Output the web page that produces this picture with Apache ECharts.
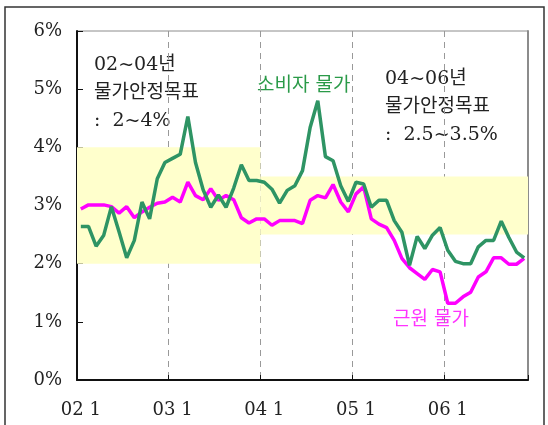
<!DOCTYPE html>
<html>
<head>
<meta charset="utf-8">
<script src="https://cdn.jsdelivr.net/npm/echarts@6/dist/echarts.min.js"></script>
<style>
  html, body { margin: 0; padding: 0; background: #fff; }
  #chart { width: 548px; height: 425px; }
</style>
</head>
<body>
<div id="chart"></div>
<script>
// Monthly CPI vs core inflation (YoY %), Jan 2002 .. Nov 2006, with the
// inflation-target bands for 2002-04 and 2004-06.
const years = ['02', '03', '04', '05', '06'];
const monthCount = 59;
const months = [];
for (let i = 0; i < monthCount; i++) months.push(years[Math.floor(i / 12)] + ' ' + (i % 12 + 1));

const cpi = [
  2.64, 2.64, 2.30, 2.49, 2.98, 2.55, 2.10, 2.40, 3.06, 2.77, 3.46, 3.74,
  3.81, 3.88, 4.53, 3.74, 3.27, 2.97, 3.18, 2.97, 3.30, 3.70, 3.43, 3.43,
  3.40, 3.28, 3.04, 3.26, 3.34, 3.60, 4.34, 4.80, 3.84, 3.77, 3.34, 3.07,
  3.40, 3.37, 2.97, 3.09, 3.09, 2.74, 2.54, 1.97, 2.47, 2.26, 2.49, 2.62,
  2.23, 2.04, 2.00, 2.00, 2.29, 2.40, 2.40, 2.73, 2.45, 2.20, 2.10
];
const core = [
  2.94, 3.01, 3.01, 3.01, 2.98, 2.87, 2.98, 2.79, 2.89, 2.97, 3.04, 3.06,
  3.14, 3.06, 3.40, 3.17, 3.10, 3.29, 3.09, 3.17, 3.10, 2.79, 2.70, 2.77,
  2.77, 2.66, 2.74, 2.74, 2.74, 2.69, 3.09, 3.17, 3.13, 3.36, 3.06, 2.89,
  3.20, 3.32, 2.77, 2.68, 2.62, 2.40, 2.09, 1.93, 1.83, 1.73, 1.90, 1.86,
  1.32, 1.32, 1.43, 1.51, 1.77, 1.86, 2.10, 2.10, 1.99, 1.99, 2.09
];
// target bands: month index range and % range
const bandFrom = [0, 24];
const bandTo = [24, 59];
const bandLow = [2, 2.5];
const bandHigh = [4, 3.5];

const serif = "'DejaVu Serif', 'Noto Sans CJK KR', serif";
const yearStart = (i) => i % 12 === 0;

const chart = echarts.init(document.getElementById('chart'), null, { renderer: 'canvas' });
chart.setOption({
  animation: false,
  backgroundColor: '#fff',
  grid: { left: 77, right: 20, top: 31, bottom: 45, show: true, borderColor: '#8c8c8c', borderWidth: 1 },
  xAxis: [{
    type: 'category', data: months, boundaryGap: true,
    axisLine: { lineStyle: { color: '#111', width: 2 } },
    axisTick: { show: true, inside: true, length: 5, interval: (i) => yearStart(i) && i > 0, lineStyle: { color: '#111' } },
    axisLabel: { interval: (i) => yearStart(i), fontFamily: serif, fontSize: 18, color: '#222', margin: 21 },
    splitLine: { show: true, interval: (i) => yearStart(i) && i > 0, lineStyle: { color: '#999', type: [6, 5], width: 1 } }
  }, {
    type: 'value', min: 0, max: monthCount, show: false
  }],
  yAxis: [{
    type: 'value', min: 0, max: 6, interval: 1,
    axisLine: { show: true, lineStyle: { color: '#111', width: 2 } },
    axisTick: { show: true, inside: true, length: 6, lineStyle: { color: '#111' } },
    axisLabel: { formatter: '{value}%', fontFamily: serif, fontSize: 18, color: '#222', margin: 15 },
    splitLine: { show: false }
  }, {
    type: 'value', min: 0, max: 6, position: 'right',
    axisLine: { show: true, lineStyle: { color: '#8c8c8c', width: 2 } },
    axisTick: { show: false }, axisLabel: { show: false }, splitLine: { show: false }
  }],
  series: [
    {
      type: 'line', xAxisIndex: 1, data: [], silent: true,
      markArea: {
        silent: true,
        itemStyle: { color: '#ffffcc' },
        data: bandFrom.map((f, k) => [{ xAxis: f, yAxis: bandLow[k] }, { xAxis: bandTo[k], yAxis: bandHigh[k] }])
      }
    },
    {
      name: '근원 물가', type: 'line', data: core, symbol: 'none',
      lineStyle: { color: '#ff00ff', width: 3.5 }, z: 3
    },
    {
      name: '소비자 물가', type: 'line', data: cpi, symbol: 'none',
      lineStyle: { color: '#2e9464', width: 3.5 }, z: 4
    }
  ],
  graphic: [
    { type: 'rect', shape: { x: 5, y: 7, width: 539, height: 430 }, style: { fill: 'none', stroke: '#333', lineWidth: 1.5 }, silent: true },
    { type: 'text', x: 94, y: 51, style: { text: '02~04년\n물가안정목표\n:  2~4%', font: '19px ' + serif, fill: '#222', lineHeight: 28 } },
    { type: 'text', x: 385, y: 65, style: { text: '04~06년\n물가안정목표\n:  2.5~3.5%', font: '19px ' + serif, fill: '#222', lineHeight: 28 } },
    { type: 'text', x: 257, y: 77, style: { text: '소비자 물가', font: '19px ' + serif, fill: '#2a9a48' } },
    { type: 'text', x: 393, y: 311, style: { text: '근원 물가', font: '19px ' + serif, fill: '#ff33ff' } }
  ]
});
</script>
</body>
</html>
